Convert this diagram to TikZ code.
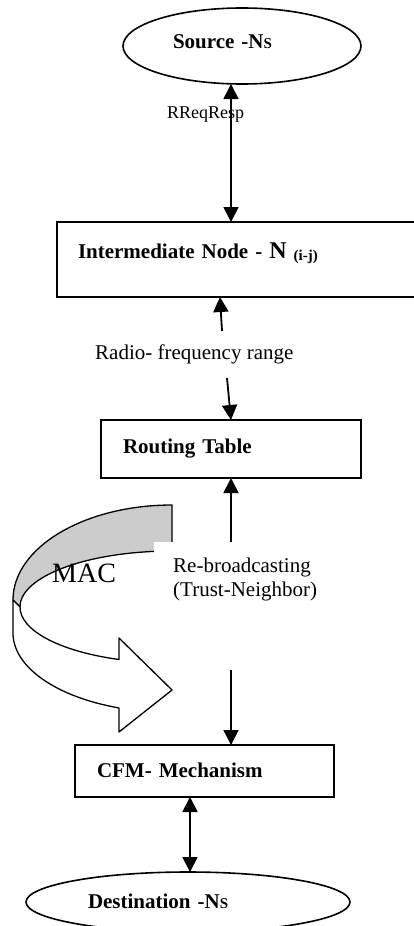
\documentclass[tikz,border=0pt]{standalone}
\usepackage{fontspec}
\setmainfont{Liberation Serif}
\usetikzlibrary{arrows.meta,shapes.geometric}
\definecolor{macgrey}{HTML}{CCCCCC}
\begin{document}
\begin{tikzpicture}[x=1pt,y=-1pt,
  flow/.style={line width=1.8pt,-{Triangle[length=15pt,width=15pt]}},
  both/.style={line width=1.8pt,{Triangle[length=15pt,width=15pt]}-{Triangle[length=15pt,width=15pt]}},
  boxnode/.style={draw,line width=1.6pt,rectangle,outer sep=0pt,anchor=north west,
    align=left,font=\fontsize{21}{24}\selectfont\bfseries},
  endnode/.style={draw,line width=1.6pt,ellipse,inner sep=0pt,outer sep=0pt,
    align=left,font=\fontsize{21}{24}\selectfont\bfseries},
  plain/.style={anchor=base west,inner sep=0pt,font=\fontsize{21}{24}\selectfont},
  macline/.style={line width=1.3pt,line join=round}]

\useasboundingbox (0,0) rectangle (414,926);
\clip (0,0) rectangle (414,926);

% end points of the route
\node[endnode,minimum width=238pt,minimum height=76pt,text width=138pt,
  text height=14pt,text depth=10pt] (src) at (242,46)
  {Source -N{\fontsize{15}{15}\selectfont S}};
\node[endnode,minimum width=324pt,minimum height=60pt,text width=200pt,
  text height=15pt,text depth=3pt] (dst) at (188,902)
  {Destination -N{\fontsize{15}{15}\selectfont S}};

% processing boxes
\node[boxnode,minimum height=75pt,inner xsep=21pt,text width=321pt,
  text height=10pt,text depth=13pt] (im) at (57,222)
  {Intermediate Node - {\fontsize{24}{24}\selectfont N} \raisebox{-2pt}{\fontsize{15}{15}\selectfont (i-j)}};
\node[boxnode,minimum height=58pt,inner xsep=22pt,text width=216pt,
  text height=15pt,text depth=7pt] (rt) at (101,420) {Routing Table};
\node[boxnode,minimum height=52pt,inner xsep=22pt,text width=215pt,
  text height=16pt,text depth=4pt] (cfm) at (75,745) {CFM- Mechanism};

% curved MAC block arrow: shaded upper face
\filldraw[fill=macgrey,macline]
  (172,505) arc[start angle=270,end angle=180,x radius=159,y radius=95]
  -- (20,607)
  arc[start angle=180,end angle=270,x radius=152,y radius=56]
  -- cycle;
% curved MAC block arrow: lower band with head
\filldraw[fill=white,macline]
  (13,600) -- (13,633)
  arc[start angle=180,end angle=109.5,x radius=159,y radius=79.5]
  -- (119,732) -- (172,690) -- (119,638) -- (119,659.5)
  arc[start angle=110.4,end angle=180,x radius=152,y radius=56]
  -- cycle;
\node[plain,font=\fontsize{28}{28}\selectfont] (mac) at (52,582) {MAC};

% white label field
\node[fill=white,inner sep=0pt,outer sep=0pt,minimum width=176pt,
  minimum height=128pt,anchor=north west] (gap) at (154,542) {};
\node[plain,align=left] (rbt) at (173,596) {Re-broadcasting\\(Trust-Neighbor)};

% labels
\node[plain,font=\fontsize{18}{20}\selectfont] (rr) at (167,118) {RReqResp};
\node[plain] (rf) at (95,359) {Radio- frequency range};

% connectors
\coordinate (rfup) at (222,331);
\coordinate (rfdn) at (227,378);
\draw[both] ([xshift=-11pt]src.south) -- ([xshift=-11pt]src.south |- im.north);
\draw[flow] (rfup) -- ([xshift=-18.5pt]im.south);
\draw[flow] (rfdn) -- (rt.north);
\draw[flow] (gap.north -| rt.south) -- (rt.south);
\draw[flow] (gap.south -| rt.south) -- (rt.south |- cfm.north);
\draw[both] ([xshift=2pt]dst.north |- cfm.south) -- ([xshift=2pt]dst.north);
\end{tikzpicture}
\end{document}
